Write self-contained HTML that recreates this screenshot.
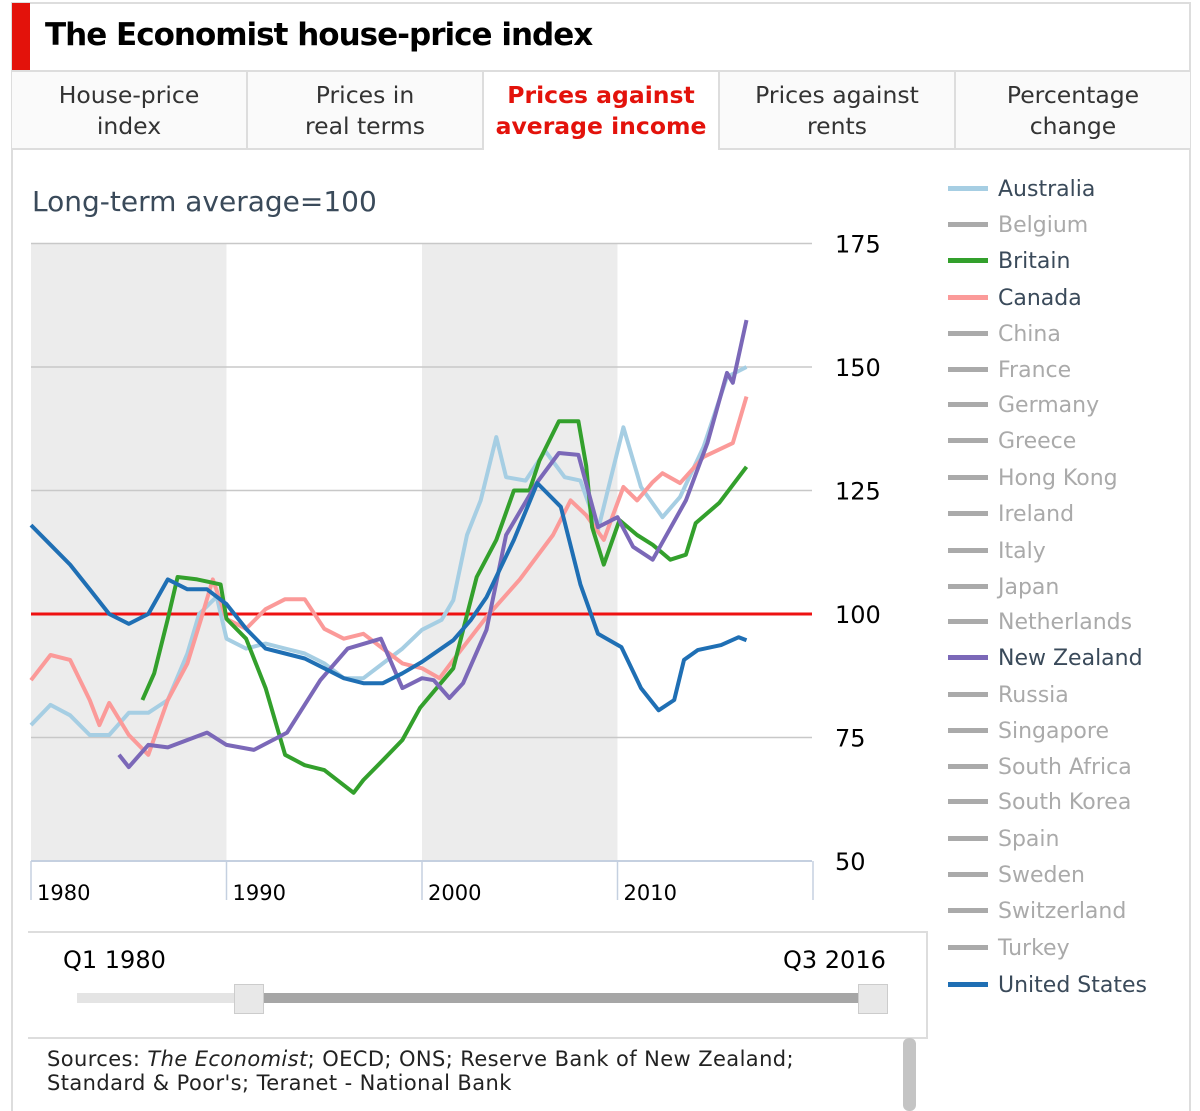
<!DOCTYPE html>
<html><head><meta charset="utf-8"><style>
body{margin:0;width:1200px;height:1111px;background:#fff;font-family:"DejaVu Sans","Liberation Sans",sans-serif;position:relative;overflow:hidden}
.abs{position:absolute}
.tab{position:absolute;top:72px;height:78px;width:236px;box-sizing:border-box;border-right:2px solid #ddd;border-bottom:2px solid #ddd;background:#fafafa;text-align:center;font-size:23.5px;line-height:31px;color:#333;padding-top:8px}
.leg{position:absolute;left:948px;font-size:22px;color:#aaa;height:30px;line-height:30px}
.leg span{display:inline-block;width:40px;height:5px;background:#aaa;vertical-align:middle;margin-right:10px;margin-top:-3px}
</style></head><body>
<div class="abs" style="left:11px;top:2px;width:1180px;height:1109px;border:2px solid #ddd;border-bottom:none;box-sizing:border-box"></div>
<div class="abs" style="left:12px;top:3px;width:18px;height:68px;background:#e3120b"></div>
<div class="abs" style="left:45px;top:17px;font-size:31px;font-weight:bold;letter-spacing:-1px;color:#000">The Economist house-price index</div>
<div class="abs" style="left:12px;top:70px;width:1178px;height:2px;background:#ddd"></div>
<div class="tab" style="left:12px">House-price<br>index</div>
<div class="tab" style="left:248px">Prices in<br>real terms</div>
<div class="tab" style="left:484px;background:#fff;border-bottom:none;color:#e3120b;font-weight:bold">Prices against<br>average income</div>
<div class="tab" style="left:720px">Prices against<br>rents</div>
<div class="tab" style="left:956px;width:234px;border-right:none">Percentage<br>change</div>
<div class="abs" style="left:32px;top:185px;font-size:28px;color:#3a4a5a">Long-term average=100</div>

<svg class="abs" style="left:0;top:0" width="1200" height="1111">
<g id="bands"></g><g id="grid"></g><g id="axis"></g><g id="lines"></g>
</svg>

<div>
<div class="leg" style="top:175px;color:#3a4a5a"><span style="background:#a6cee3"></span>Australia</div>
<div class="leg" style="top:211px"><span></span>Belgium</div>
<div class="leg" style="top:247px;color:#3a4a5a"><span style="background:#33a02c"></span>Britain</div>
<div class="leg" style="top:284px;color:#3a4a5a"><span style="background:#fb9a99"></span>Canada</div>
<div class="leg" style="top:320px"><span></span>China</div>
<div class="leg" style="top:356px"><span></span>France</div>
<div class="leg" style="top:391px"><span></span>Germany</div>
<div class="leg" style="top:427px"><span></span>Greece</div>
<div class="leg" style="top:464px"><span></span>Hong Kong</div>
<div class="leg" style="top:500px"><span></span>Ireland</div>
<div class="leg" style="top:537px"><span></span>Italy</div>
<div class="leg" style="top:573px"><span></span>Japan</div>
<div class="leg" style="top:608px"><span></span>Netherlands</div>
<div class="leg" style="top:644px;color:#3a4a5a"><span style="background:#7b68b8"></span>New Zealand</div>
<div class="leg" style="top:681px"><span></span>Russia</div>
<div class="leg" style="top:717px"><span></span>Singapore</div>
<div class="leg" style="top:753px"><span></span>South Africa</div>
<div class="leg" style="top:788px"><span></span>South Korea</div>
<div class="leg" style="top:825px"><span></span>Spain</div>
<div class="leg" style="top:861px"><span></span>Sweden</div>
<div class="leg" style="top:897px"><span></span>Switzerland</div>
<div class="leg" style="top:934px"><span></span>Turkey</div>
<div class="leg" style="top:971px;color:#3a4a5a"><span style="background:#1f6fb4"></span>United States</div>
</div>

<div class="abs" style="left:28px;top:931px;width:898px;height:104px;border-top:2px solid #ddd;border-bottom:2px solid #ddd;border-right:2px solid #ddd"></div>
<div class="abs" style="left:63px;top:946px;font-size:24px;color:#000">Q1 1980</div>
<div class="abs" style="left:783px;top:946px;font-size:24px;color:#000">Q3 2016</div>
<div class="abs" style="left:77px;top:993px;width:800px;height:10px;background:#e4e4e4"></div>
<div class="abs" style="left:262px;top:993px;width:600px;height:10px;background:#a6a6a6"></div>
<div class="abs" style="left:234px;top:984px;width:28px;height:28px;background:#e8e8e8;border:1px solid #ccc"></div>
<div class="abs" style="left:858px;top:984px;width:28px;height:28px;background:#e8e8e8;border:1px solid #ccc"></div>
<div class="abs" style="left:47px;top:1047px;font-size:21px;letter-spacing:0.4px;line-height:24px;color:#222">Sources: <i>The Economist</i>; OECD; ONS; Reserve Bank of New Zealand;<br>Standard &amp; Poor's; Teranet - National Bank</div>
<div class="abs" style="left:903px;top:1038px;width:13px;height:73px;background:#c4c4c4;border-radius:6px"></div>

<script>
const yearTicks=[1980,1990,2000,2010];
const valueTicks=[50,75,100,125,150,175];
const shadedBands=[[1980,1990],[2000,2010]];
const ausYears=[1980,1981,1982,1983,1984,1985,1986,1987,1988,1988.6,1989.5,1990,1991,1992,1993,1994,1995,1996,1997,1998,1999,2000,2001,2001.6,2002.3,2003,2003.8,2004.3,2005.3,2006.3,2007.3,2008.1,2009,2010.3,2011.2,2012.3,2013.2,2014.4,2015.6,2016.6];
const ausVals=[77.5,81.6,79.5,75.5,75.5,80,80,82.6,92,100,103.5,95,93,94,93,92,90,87,87,90,93,96.8,98.8,102.8,116,123,135.8,127.7,127,133,127.7,127,117,137.8,125.7,119.6,123.7,133.8,148,150];
const canYears=[1980,1981,1982,1983,1983.5,1984,1985,1986,1987,1988,1988.7,1989.3,1990,1991,1992,1993,1994,1995,1996,1997,1998,1999,2000,2000.9,2001.6,2003.3,2005,2006.7,2007.6,2008.4,2009.3,2010.3,2011,2011.8,2012.3,2013.2,2014.4,2015.9,2016.6];
const canVals=[86.6,91.7,90.7,82.6,77.5,82,75.5,71.5,82.6,90,99,107,99,97,101,103,103,97,95,96,93,90,89,87,90.7,99.4,107,116,123,120,115,125.7,123,126.7,128.5,126.5,131.8,134.6,144];
const gbrYears=[1985.7,1986.3,1987,1987.5,1988.5,1989.7,1990,1991,1992,1993,1994,1995,1996.5,1997,1998,1999,1999.9,2001.6,2002.8,2003.8,2004.7,2005.5,2006,2007,2008,2008.4,2008.7,2009.3,2010.1,2011,2011.8,2012.7,2013.5,2014,2015.2,2016.6];
const gbrVals=[82.6,88,99,107.5,107,106,99,95,85,71.5,69.4,68.4,63.8,66.4,70.4,74.5,81,89,107.5,115,125,125,131,139,139,130,117.6,110,119,116,114,111,112,118.4,122.5,129.8];
const nzlYears=[1984.5,1985,1986,1987,1988,1989,1990,1991.4,1993.1,1994.8,1996.2,1997.9,1999,2000,2000.6,2001.4,2002.1,2003.3,2004.3,2005.9,2007,2008,2009,2010,2010.8,2011.8,2013.5,2014.6,2015.6,2015.9,2016.6];
const nzlVals=[71.5,69,73.5,73,74.5,76,73.5,72.5,76,86.6,93,95,85,87,86.6,83,86,96.8,116,126.7,132.6,132.2,117.6,119.6,113.6,111,123,134.6,148.8,146.8,159.5];
const usaYears=[1980,1981,1982,1983,1984,1985,1986,1987,1988,1989,1990,1991,1992,1993,1994,1995,1996,1997,1998,1999,2000,2001.6,2002.5,2003.3,2004.7,2005.9,2007.1,2008.1,2009,2010.2,2011.2,2012.1,2012.9,2013.4,2014.1,2015.3,2016.2,2016.6];
const usaVals=[118,114,110,105,100,98,100,107,105,105,102,97,93,92,91,89,87,86,86,88,90.3,94.7,98.8,103.4,115,126.5,121.7,106,96,93.3,85,80.5,82.6,90.7,92.7,93.7,95.3,94.7];
const refLine=[100];

const X0=31,X1=812,Y_TOP=244,Y_BOT=861;
const xs=yr=>31+(yr-1980)*19.55;
const ys=v=>614-(v-100)*4.94;
const NS="http://www.w3.org/2000/svg";
function mk(tag,attrs,parent){const e=document.createElementNS(NS,tag);for(const k in attrs)e.setAttribute(k,attrs[k]);parent.appendChild(e);return e;}
const bands=document.getElementById('bands'),grid=document.getElementById('grid'),axis=document.getElementById('axis'),lines=document.getElementById('lines');
shadedBands.forEach(b=>{
  const r=mk('rect',{x:xs(b[0]),y:Y_TOP,width:xs(b[1])-xs(b[0]),height:Y_BOT-Y_TOP,fill:'#ececec'},bands);
  
  
});
valueTicks.forEach(v=>{
  if(v>50){const l=mk('line',{x1:X0,x2:X1,y1:ys(v),y2:ys(v),stroke:'#c8c8c8','stroke-width':1.5},grid);
  
  }
  const t=mk('text',{x:835,y:ys(v)+9,'font-size':24,fill:'#000','font-family':'DejaVu Sans, Liberation Sans, sans-serif'},axis);
  t.textContent=v;
  
  
});
const ax=mk('line',{x1:X0,x2:X1,y1:Y_BOT,y2:Y_BOT,stroke:'#c5d0e0','stroke-width':2},axis);


yearTicks.concat([2020]).forEach(yr=>{
  const l=mk('line',{x1:xs(yr),x2:xs(yr),y1:Y_BOT,y2:900,stroke:'#c5d0e0','stroke-width':1.5},axis);
  
  
});
yearTicks.forEach(yr=>{
  const t=mk('text',{x:xs(yr)+6,y:900,'font-size':21,fill:'#000','font-family':'DejaVu Sans, Liberation Sans, sans-serif'},axis);
  t.textContent=yr;
  
  
});
const ref=mk('line',{x1:X0,x2:X1,y1:ys(refLine[0]),y2:ys(refLine[0]),stroke:'#ee1111','stroke-width':3},lines);


function series(yrs,vals,color,name){
  const d=yrs.map((y,i)=>(i?'L':'M')+xs(y).toFixed(1)+' '+ys(vals[i]).toFixed(1)).join(' ');
  const p=mk('path',{d:d,fill:'none',stroke:color,'stroke-width':4,'stroke-linejoin':'round'},lines);
  
  
}
series(ausYears,ausVals,'#a6cee3','line-australia');
series(canYears,canVals,'#fb9a99','line-canada');
series(gbrYears,gbrVals,'#33a02c','line-britain');
series(nzlYears,nzlVals,'#7b68b8','line-new-zealand');
series(usaYears,usaVals,'#1f6fb4','line-united-states');
</script>
</body></html>
